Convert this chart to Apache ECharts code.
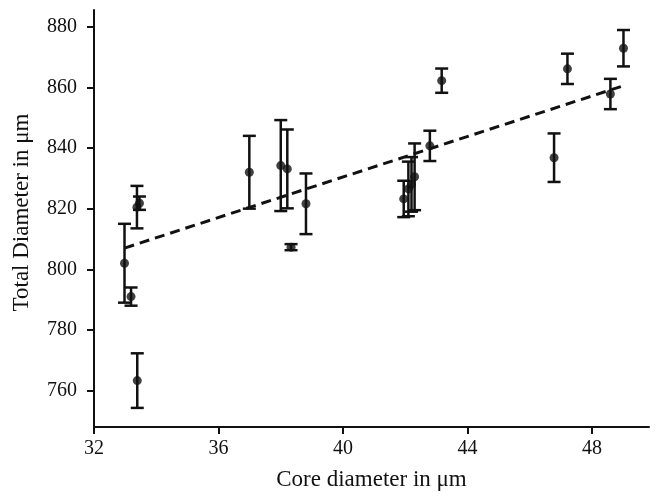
<!DOCTYPE html>
<html><head><meta charset="utf-8">
<script src="https://cdn.jsdelivr.net/npm/echarts@6/dist/echarts.min.js"></script>
<style>html,body{margin:0;padding:0;background:#fff}#c{width:656px;height:496px}</style>
</head><body><div id="c"></div>
<script>
var coreDiameter = [32.98, 33.19, 33.39, 33.38, 33.46, 36.99, 38.00, 38.21, 38.81, 38.33, 43.17, 42.79, 41.95, 42.10, 42.20, 42.30, 47.21, 49.01, 48.59, 46.78];
var totalDiameter = [802.0, 791.0, 763.3, 820.5, 821.8, 832.0, 834.2, 833.1, 821.6, 807.3, 862.2, 840.7, 823.2, 826.5, 828.0, 830.5, 866.1, 872.9, 857.8, 836.8];
var errorSize = [13, 3, 9, 7, 2.2, 12, 15, 13, 10, 1, 4, 5, 6, 9, 9, 11, 5, 6, 5, 8];
var trendX = [32.98, 49.0];
var trendY = [807.0, 860.5];
var xTicks = [32, 36, 40, 44, 48];
var yTicks = [760, 780, 800, 820, 840, 860, 880];

var pts = coreDiameter.map(function(x, i){ return [x, totalDiameter[i]]; });
var errs = coreDiameter.map(function(x, i){ return [x, totalDiameter[i] - errorSize[i], totalDiameter[i] + errorSize[i]]; });
var trend = trendX.map(function(x, i){ return [x, trendY[i]]; });

var font = 'Liberation Serif';
var ink = '#111';
var chart = echarts.init(document.getElementById('c'));
chart.setOption({
  backgroundColor: '#fff',
  animation: false,
  grid: {left: 94, right: 7, top: 10, bottom: 69},
  xAxis: {
    type: 'value', min: 32, max: 49.83,
    name: 'Core diameter in μm', nameLocation: 'middle', nameGap: 41,
    nameTextStyle: {fontFamily: font, fontSize: 23, color: ink},
    splitLine: {show: false},
    axisLine: {lineStyle: {color: ink, width: 2}},
    axisTick: {customValues: xTicks, length: 7, lineStyle: {color: ink, width: 2}},
    axisLabel: {customValues: xTicks, fontFamily: font, fontSize: 20, color: ink, margin: 12}
  },
  yAxis: {
    type: 'value', min: 748, max: 885.5,
    name: 'Total Diameter in μm', nameLocation: 'middle', nameGap: 61,
    nameTextStyle: {fontFamily: font, fontSize: 23, color: ink, padding: [0, 0, 0, 12]},
    splitLine: {show: false},
    axisLine: {lineStyle: {color: ink, width: 2}},
    axisTick: {customValues: yTicks, length: 7, lineStyle: {color: ink, width: 2}},
    axisLabel: {customValues: yTicks, fontFamily: font, fontSize: 20, color: ink, margin: 17}
  },
  series: [
    {
      type: 'line', data: trend, symbol: 'none', z: 3,
      lineStyle: {color: ink, width: 3, type: [10, 6]}
    },
    {
      type: 'custom', z: 4,
      renderItem: function(params, api){
        var x = api.value(0);
        var lo = api.coord([x, api.value(1)]);
        var hi = api.coord([x, api.value(2)]);
        var hw = 6.5;
        var st = {stroke: ink, lineWidth: 2.5};
        return {type: 'group', children: [
          {type: 'line', shape: {x1: lo[0], y1: lo[1], x2: hi[0], y2: hi[1]}, style: st},
          {type: 'line', shape: {x1: lo[0]-hw, y1: lo[1], x2: lo[0]+hw, y2: lo[1]}, style: st},
          {type: 'line', shape: {x1: hi[0]-hw, y1: hi[1], x2: hi[0]+hw, y2: hi[1]}, style: st}
        ]};
      },
      encode: {x: 0, y: [1, 2]},
      data: errs
    },
    {
      type: 'scatter', data: pts, symbol: 'circle', symbolSize: 9, z: 5,
      itemStyle: {color: ink}
    }
  ]
});
</script></body></html>
